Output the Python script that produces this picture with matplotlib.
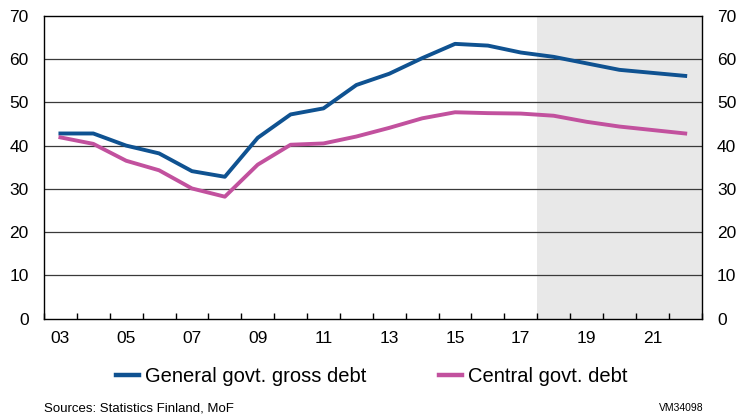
import numpy as np
import matplotlib
matplotlib.use("Agg")
import matplotlib.pyplot as plt
from matplotlib.ticker import FixedLocator, NullFormatter

plt.rcParams["font.family"] = ["Liberation Sans", "DejaVu Sans"]

# Data
years = list(range(2003, 2023))
general_debt = [42.8, 42.8, 40.0, 38.2, 34.1, 32.8, 41.8, 47.2, 48.6, 54.0,
                56.6, 60.2, 63.5, 63.1, 61.5, 60.5, 59.0, 57.5, 56.8, 56.1]
central_debt = [41.9, 40.4, 36.5, 34.3, 30.1, 28.2, 35.6, 40.2, 40.5, 42.1,
                44.1, 46.3, 47.7, 47.5, 47.4, 46.9, 45.5, 44.4, 43.6, 42.8]
forecast_start = 2018
year_labels = ["03", "05", "07", "09", "11", "13", "15", "17", "19", "21"]

BLUE = "#0f5291"
PINK = "#c2519e"

fig = plt.figure(figsize=(7.44, 4.16), dpi=100)
ax = fig.add_axes([0.0591, 0.2337, 0.884, 0.7285])

x = np.arange(len(years))
ax.axvspan(years.index(forecast_start) - 0.5, len(years) - 0.5,
           color="#e8e8e8", zorder=0, lw=0)

for v in range(10, 70, 10):
    ax.axhline(v, color="#3a3a3a", lw=0.9, zorder=1)

ax.plot(x, general_debt, color=BLUE, lw=2.8, label="General govt. gross debt",
        zorder=3, solid_joinstyle="round")
ax.plot(x, central_debt, color=PINK, lw=2.8, label="Central govt. debt",
        zorder=3, solid_joinstyle="round")

ax.set_xlim(-0.5, len(years) - 0.5)
ax.set_ylim(0, 70)

# x axis: ticks at category boundaries, labels at every other year
ax.xaxis.set_major_locator(FixedLocator(np.arange(-0.5, len(years), 1.0)))
ax.xaxis.set_major_formatter(NullFormatter())
label_pos = [years.index(2000 + int(s)) for s in year_labels]
ax.xaxis.set_minor_locator(FixedLocator(label_pos))
ax.set_xticklabels(year_labels, minor=True)
ax.tick_params(axis="x", which="major", direction="in", length=4, width=1,
               color="black")
ax.tick_params(axis="x", which="minor", length=0, pad=9, labelsize=12.5)

ax.set_yticks(range(0, 71, 10))
ax.tick_params(axis="y", which="both", length=0, labelsize=12.5, pad=11,
               left=False, right=False, labelleft=True, labelright=True)

for s in ax.spines.values():
    s.set_color("black")
    s.set_linewidth(1.0)
    s.set_zorder(4)

leg = fig.legend(loc="center", bbox_to_anchor=(0.5, 0.096), ncol=2,
                 frameon=False, fontsize=14.5, handlelength=1.15,
                 handletextpad=0.3, columnspacing=3.6)
for h in leg.get_lines():
    h.set_linewidth(3.2)

fig.text(0.059, 0.019, "Sources: Statistics Finland, MoF", fontsize=9.5,
         ha="left", va="center")
fig.text(0.945, 0.019, "VM34098", fontsize=7.5, ha="right", va="center")

fig.savefig("out.png", dpi=100)
